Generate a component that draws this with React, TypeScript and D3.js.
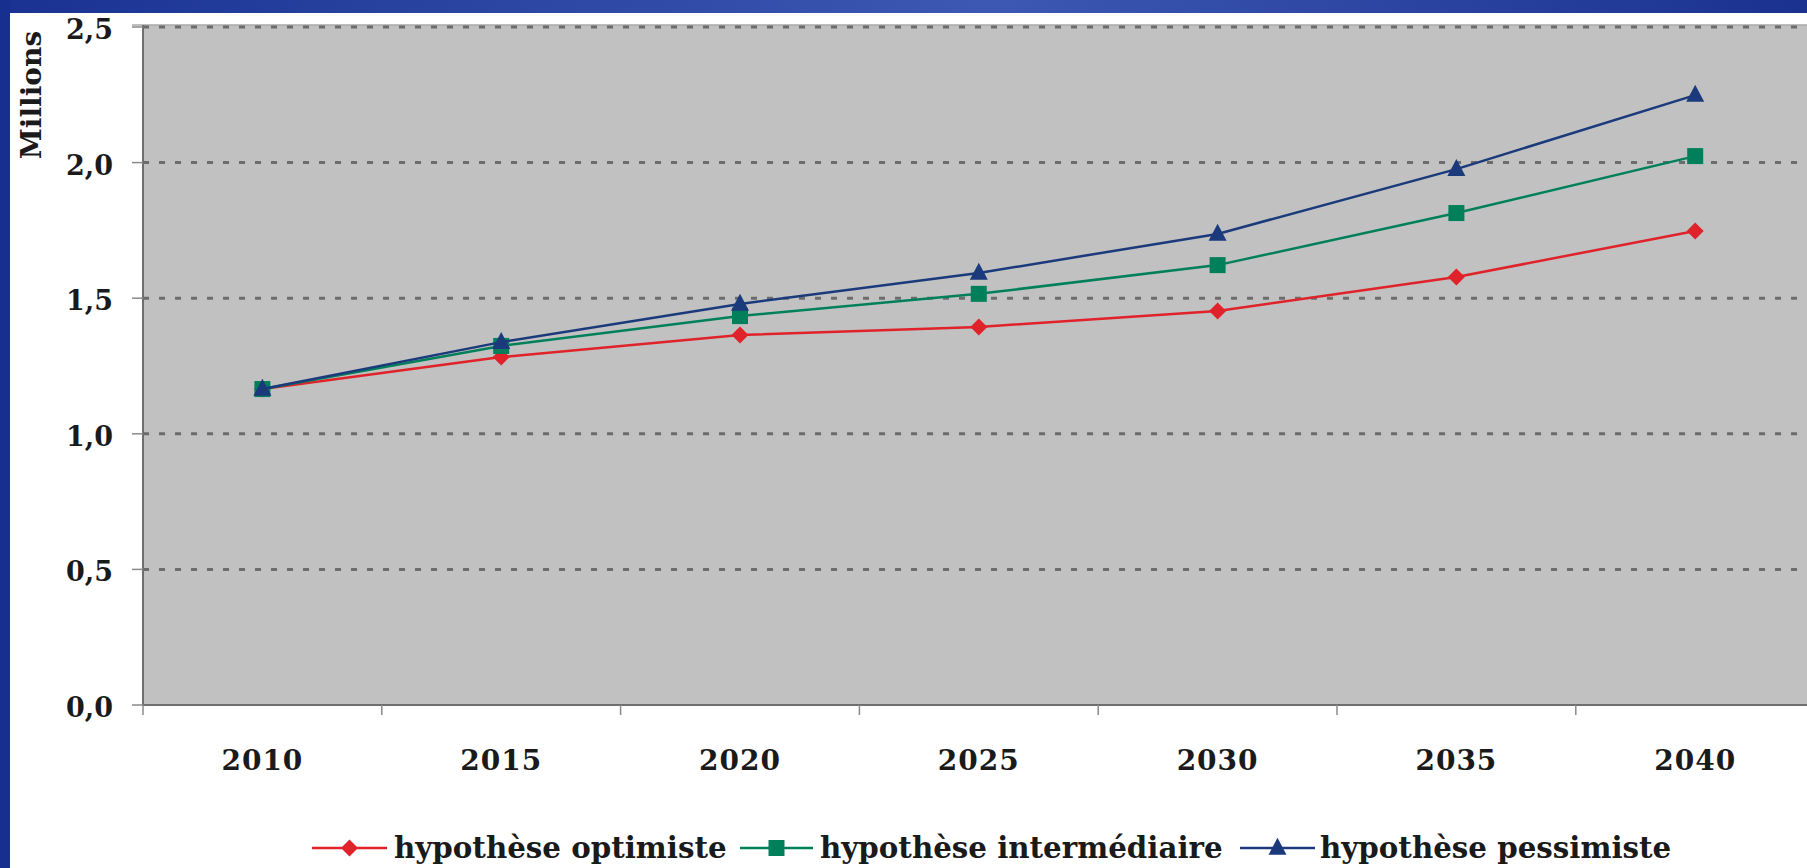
import React from "react";
import * as d3 from "d3";

const years = ["2010", "2015", "2020", "2025", "2030", "2035", "2040"];
const optimiste = [1.165, 1.283, 1.364, 1.394, 1.453, 1.578, 1.748];
const intermediaire = [1.165, 1.324, 1.434, 1.516, 1.622, 1.814, 2.024];
const pessimiste = [1.165, 1.338, 1.479, 1.593, 1.737, 1.976, 2.249];
const yTicks = [0, 0.5, 1.0, 1.5, 2.0, 2.5];
const seriesNames = ["hypothèse optimiste", "hypothèse intermédiaire", "hypothèse pessimiste"];

const W = 1807;
const H = 868;
const FONT = "'DejaVu Serif', serif";

const series = [
  { name: seriesNames[0], values: optimiste, color: "#e0222a", shape: "diamond" },
  { name: seriesNames[1], values: intermediaire, color: "#00805a", shape: "square" },
  { name: seriesNames[2], values: pessimiste, color: "#1b3a7c", shape: "triangle" },
];

function Marker({ shape, x, y, color }: { shape: string; x: number; y: number; color: string }) {
  if (shape === "diamond") {
    const r = 8.5;
    return <path d={`M${x},${y - r}L${x + r},${y}L${x},${y + r}L${x - r},${y}Z`} fill={color} />;
  }
  if (shape === "square") {
    const s = 8;
    return <rect x={x - s} y={y - s} width={2 * s} height={2 * s} fill={color} />;
  }
  const h = 17, w = 18;
  return <path d={`M${x},${y - h * 0.6}L${x + w / 2},${y + h * 0.4}L${x - w / 2},${y + h * 0.4}Z`} fill={color} />;
}

export default function App() {
  const plotLeft = 143;
  const bandW = 238.8;
  const x = d3.scaleBand().domain(years).range([plotLeft, plotLeft + bandW * years.length]).padding(0);
  const y = d3.scaleLinear().domain([0, 2.5]).range([705, 27]);
  const cx = (yr: string) => (x(yr) as number) + x.bandwidth() / 2;
  const line = d3.line<[number, number]>().x((d) => d[0]).y((d) => d[1]);

  const legendItems = [
    { lineX: 312, lineX2: 387, textX: 394 },
    { lineX: 740, lineX2: 813, textX: 820 },
    { lineX: 1240, lineX2: 1315, textX: 1320 },
  ];

  return (
    <div style={{ position: "absolute", left: 0, top: 0 }}>
      <svg width={W} height={H} style={{ display: "block" }}>
        <defs>
          <linearGradient id="topband" x1="0" x2="1" y1="0" y2="0">
            <stop offset="0" stopColor="#1a3393" />
            <stop offset="0.55" stopColor="#3c58b2" />
            <stop offset="1" stopColor="#1a3190" />
          </linearGradient>
          <clipPath id="plotclip">
            <rect x={0} y={0} width={W} height={H} />
          </clipPath>
        </defs>
        <rect x={0} y={0} width={W} height={H} fill="#ffffff" />
        <rect x={0} y={0} width={W} height={13} fill="url(#topband)" />
        <rect x={0} y={0} width={10} height={H} fill="#17308f" />

        {/* plot area */}
        <rect x={plotLeft} y={25} width={W - plotLeft} height={705 - 25} fill="#c0c1c0" />
        <line x1={plotLeft - 11} x2={W} y1={25} y2={25} stroke="#a8a8a8" strokeWidth={1.5} />

        {/* gridlines */}
        {yTicks.map((t) =>
          t > 0 ? (
            <line key={"g" + t} x1={plotLeft} x2={W} y1={y(t)} y2={y(t)} stroke="#6c6c6c" strokeWidth={3} strokeDasharray="6,10" />
          ) : null
        )}

        {/* axis lines */}
        <line x1={plotLeft} x2={plotLeft} y1={25} y2={706} stroke="#6e6e6e" strokeWidth={2} />
        <line x1={plotLeft} x2={W} y1={705} y2={705} stroke="#6e6e6e" strokeWidth={2} />

        {/* y ticks and labels */}
        {yTicks.map((t) => (
          <g key={"y" + t}>
            <line x1={plotLeft - 11} x2={plotLeft} y1={y(t)} y2={y(t)} stroke="#8a8a8a" strokeWidth={1.5} />
            <text x={113} y={y(t) + 12} textAnchor="end" fontFamily={FONT} fontWeight="bold" fontSize={27} fill="#1a1a1a">
              {t.toFixed(1).replace(".", ",")}
            </text>
          </g>
        ))}

        {/* x ticks and labels */}
        {years.map((yr) => (
          <g key={"x" + yr}>
            <line x1={x(yr) as number} x2={x(yr) as number} y1={705} y2={715} stroke="#8a8a8a" strokeWidth={1.5} />
            <text x={cx(yr)} y={770} textAnchor="middle" fontFamily={FONT} fontWeight="bold" fontSize={28} letterSpacing={1} fill="#1a1a1a">
              {yr}
            </text>
          </g>
        ))}

        <text transform={`translate(41,95) rotate(-90)`} textAnchor="middle" fontFamily={FONT} fontWeight="bold" fontSize={28} fill="#1a1a1a">
          Millions
        </text>

        {/* series */}
        <g clipPath="url(#plotclip)">
          {series.map((s) => {
            const pts: [number, number][] = s.values.map((v, i) => [cx(years[i]), y(v)]);
            return (
              <g key={s.name}>
                <path d={line(pts) || ""} fill="none" stroke={s.color} strokeWidth={2.5} />
                {pts.map((p, i) => (
                  <Marker key={i} shape={s.shape} x={p[0]} y={p[1]} color={s.color} />
                ))}
              </g>
            );
          })}
        </g>

        {/* legend */}
        {series.map((s, i) => {
          const L = legendItems[i];
          const ly = 848;
          return (
            <g key={"l" + s.name}>
              <line x1={L.lineX} x2={L.lineX2} y1={ly} y2={ly} stroke={s.color} strokeWidth={2.5} />
              <Marker shape={s.shape} x={(L.lineX + L.lineX2) / 2} y={ly} color={s.color} />
              <text x={L.textX} y={ly + 10} fontFamily={FONT} fontWeight="bold" fontSize={29.3} fill="#1a1a1a">
                {s.name}
              </text>
            </g>
          );
        })}
      </svg>
    </div>
  );
}
